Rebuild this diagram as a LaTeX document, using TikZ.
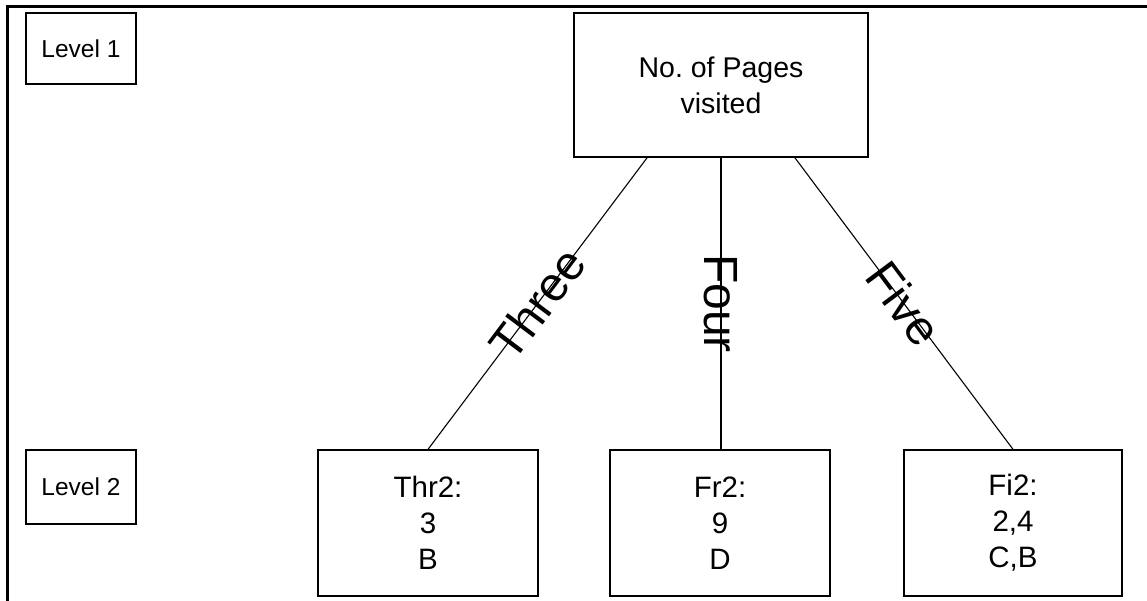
\documentclass[tikz,border=0pt]{standalone}
\usepackage{fontspec}
\setmainfont{Liberation Sans}
\usetikzlibrary{calc}
\frenchspacing

\begin{document}
\begin{tikzpicture}[x=1pt, y=-1pt,
  box/.style={draw, line width=1.3pt, align=center, inner sep=0pt},
  levelbox/.style={box, minimum width=110pt, font=\fontsize{24.5}{29}\selectfont},
  leafbox/.style={box, minimum width=220pt, minimum height=146pt, font=\fontsize{29.5}{36}\selectfont},
  edgelabel/.style={sloped, inner sep=0pt, font=\fontsize{48}{56}\selectfont}]
  \useasboundingbox (0,0) rectangle (1147,601);
  \draw[line width=3pt] (7,601) -- (7,7) -- (1147,7);

  % levels
  \node[levelbox, minimum height=71pt] (lvlone) at (81,48.5) {Level 1};
  \node[levelbox, minimum height=74pt] (lvltwo) at (81,487) {Level 2};

  % root and leaves
  \node[box, minimum width=294pt, minimum height=144pt, font=\fontsize{28.5}{36}\selectfont]
    (root) at (721,85) {No. of Pages\\visited};
  \node[leafbox] (thr) at (428,523) {Thr2:\\3\\B};
  \node[leafbox] (fr) at (720,523) {Fr2:\\9\\D};
  \node[leafbox, minimum width=218pt] (fi) at (1013,523) {Fi2:\\2,4\\C,B};

  \draw[line width=1.1pt] ($(root.south west)!0.25!(root.south east)$) -- node[edgelabel] {Three} (thr.north);
  \draw[line width=1.1pt] (root.south) -- node[edgelabel] {Four} (root.south |- fr.north);
  \draw[line width=1.1pt] ($(root.south west)!0.75!(root.south east)$) -- node[edgelabel] {Five} (fi.north);
\end{tikzpicture}
\end{document}
